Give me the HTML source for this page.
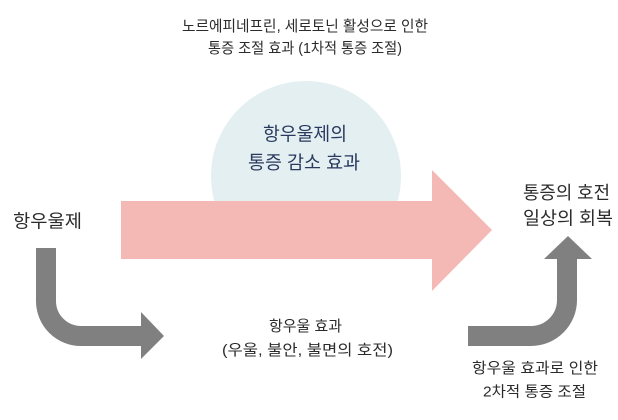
<!DOCTYPE html>
<html>
<head>
<meta charset="utf-8">
<style>
  html, body { margin: 0; padding: 0; background: #ffffff; }
  svg { display: block; }
  text { font-family: "Liberation Sans", "Noto Sans CJK KR", sans-serif; }
</style>
</head>
<body>
<svg width="618" height="420" viewBox="0 0 618 420" xmlns="http://www.w3.org/2000/svg">
  <defs>
    <clipPath id="topclip">
      <rect x="0" y="0" width="618" height="202"/>
    </clipPath>
  </defs>
  <!-- circle (bottom hidden behind / cut at arrow) -->
  <circle cx="306" cy="176" r="95" fill="#e4eff2" clip-path="url(#topclip)"/>

  <!-- pink arrow -->
  <polygon points="121,201 432,201 432,170 492,230 432,291 432,259 121,259" fill="#f5b9b5"/>

  <!-- left grey arrow -->
  <path d="M46,248 L46,301 A35,35 0 0 0 81,336 L142,336" fill="none" stroke="#808080" stroke-width="20"/>
  <polygon points="141,312 164,336 141,359" fill="#808080"/>

  <!-- right grey arrow -->
  <path d="M468,336 L531,336 A36,36 0 0 0 567,300 L567,258" fill="none" stroke="#808080" stroke-width="20"/>
  <polygon points="544,259 568,236 592,259" fill="#808080"/>

  <!-- top text -->
  <text x="182" y="31" font-size="15" fill="#2b2b2b" textLength="246" lengthAdjust="spacingAndGlyphs">노르에피네프린, 세로토닌 활성으로 인한</text>
  <text x="208" y="53" font-size="15" fill="#2b2b2b" textLength="194" lengthAdjust="spacingAndGlyphs">통증 조절 효과 (1차적 통증 조절)</text>

  <!-- circle text -->
  <text x="263" y="140.5" font-size="18.5" fill="#2a3a5e" textLength="84" lengthAdjust="spacingAndGlyphs">항우울제의</text>
  <text x="248" y="169" font-size="18.5" fill="#2a3a5e" textLength="112" lengthAdjust="spacingAndGlyphs">통증 감소 효과</text>

  <!-- left label -->
  <text x="13" y="227.5" font-size="18" fill="#2b2b2b" textLength="69" lengthAdjust="spacingAndGlyphs">항우울제</text>

  <!-- right label -->
  <text x="523" y="199" font-size="18" fill="#2b2b2b" textLength="87" lengthAdjust="spacingAndGlyphs">통증의 호전</text>
  <text x="523" y="224.5" font-size="18" fill="#2b2b2b" textLength="90" lengthAdjust="spacingAndGlyphs">일상의 회복</text>

  <!-- middle bottom text -->
  <text x="269" y="331" font-size="15" fill="#2b2b2b" textLength="73" lengthAdjust="spacingAndGlyphs">항우울 효과</text>
  <text x="222" y="355" font-size="15" fill="#2b2b2b" textLength="171" lengthAdjust="spacingAndGlyphs">(우울, 불안, 불면의 호전)</text>

  <!-- bottom right text -->
  <text x="472" y="373" font-size="15" fill="#2b2b2b" textLength="126" lengthAdjust="spacingAndGlyphs">항우울 효과로 인한</text>
  <text x="483" y="396.5" font-size="15" fill="#2b2b2b" textLength="103" lengthAdjust="spacingAndGlyphs">2차적 통증 조절</text>
</svg>
</body>
</html>
